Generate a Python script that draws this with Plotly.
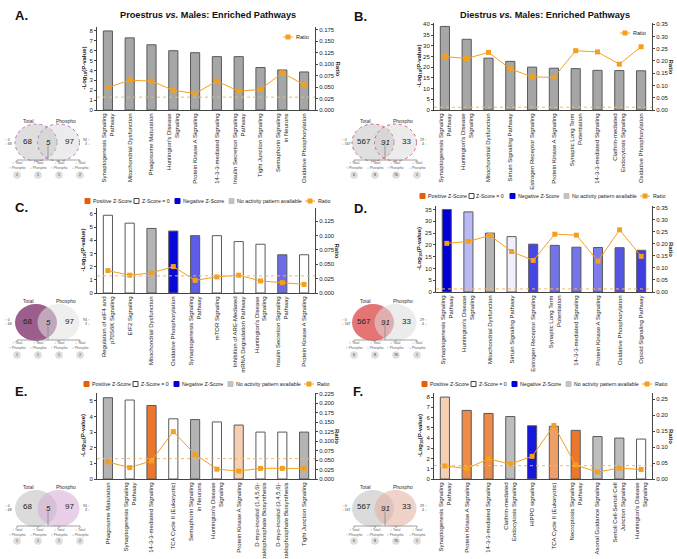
import plotly.graph_objects as go

W, H = 677, 559

# ------------------------------------------------------------------ data
a_pathways = ["Synaptogenesis Signaling<br>Pathway", "Mitochondrial Dysfunction", "Phagosome Maturation",
              "Huntington's Disease<br>Signaling", "Protein Kinase A Signaling", "14-3-3-mediated Signaling",
              "Insulin Secretion Signaling<br>Pathway", "Tight Junction Signaling",
              "Semaphorin Signaling<br>in Neurons", "Oxidative Phosphorylation"]
a_neglogp = [8.0, 7.3, 6.6, 6.0, 5.8, 5.4, 5.4, 4.3, 4.05, 3.85]
a_ratio = [0.049, 0.065, 0.063, 0.043, 0.036, 0.063, 0.041, 0.045, 0.081, 0.055]
a_zscore = [None, None, None, None, None, None, None, None, None, None]

b_pathways = ["Synaptogenesis Signaling<br>Pathway", "Huntington's Disease<br>Signaling", "Mitochondrial Dysfunction",
              "Sirtuin Signaling Pathway", "Estrogen Receptor Signaling", "Protein Kinase A Signaling",
              "Synaptic Long Term<br>Potentiation", "14-3-3-mediated Signaling",
              "Clathrin-mediated<br>Endocytosis Signaling", "Oxidative Phosphorylation"]
b_neglogp = [39.0, 33.0, 24.2, 22.7, 20.0, 19.5, 19.3, 18.5, 18.4, 18.3]
b_ratio = [0.218, 0.210, 0.235, 0.168, 0.135, 0.133, 0.242, 0.237, 0.187, 0.258]
b_zscore = [None, None, None, None, None, None, None, None, None, None]

c_pathways = ["Regulation of eIF4 and<br>p70S6K Signaling", "EIF2 Signaling", "Mitochondrial Dysfunction",
              "Oxidative Phosphorylation", "Synaptogenesis Signaling<br>Pathway", "mTOR Signaling",
              "Inhibition of ARE-Mediated<br>mRNA Degradation Pathway", "Huntington's Disease<br>Signaling",
              "Insulin Secretion Signaling<br>Pathway", "Protein Kinase A Signaling"]
c_neglogp = [5.9, 5.3, 4.9, 4.7, 4.35, 4.35, 3.9, 3.7, 2.9, 2.9]
c_ratio = [0.039, 0.031, 0.035, 0.046, 0.022, 0.028, 0.031, 0.021, 0.018, 0.015]
c_zscore = [0, 0, None, -3.2, -2.1, 0, 0, 0, -1.9, 0]

d_pathways = ["Synaptogenesis Signaling<br>Pathway", "Huntington's Disease<br>Signaling", "Mitochondrial Dysfunction",
              "Sirtuin Signaling Pathway", "Estrogen Receptor Signaling", "Synaptic Long Term<br>Potentiation",
              "14-3-3-mediated Signaling", "Protein Kinase A Signaling", "Oxidative Phosphorylation",
              "Opioid Signaling Pathway"]
d_neglogp = [35.0, 34.0, 25.0, 23.5, 20.3, 19.8, 19.0, 18.9, 18.8, 17.7]
d_ratio = [0.202, 0.210, 0.235, 0.168, 0.131, 0.240, 0.236, 0.128, 0.258, 0.148]
d_zscore = [-3.4, -0.9, None, -0.2, -2.4, -1.8, -1.8, -1.7, -2.2, -2.5]

e_pathways = ["Phagosome Maturation", "Synaptogenesis Signaling<br>Pathway", "14-3-3-mediated Signaling",
              "TCA Cycle II (Eukaryotic)", "Semaphorin Signaling<br>in Neurons", "Huntington's Disease<br>Signaling",
              "Protein Kinase A Signaling", "D-myo-inositol (1,4,5,6)-<br>Tetrakisphosphate Biosynthesis",
              "D-myo-inositol (3,4,5,6)-<br>Tetrakisphosphate Biosynthesis", "Tight Junction Signaling"]
e_neglogp = [5.2, 5.05, 4.7, 3.85, 3.8, 3.65, 3.45, 3.0, 3.0, 3.0]
e_ratio = [0.045, 0.030, 0.048, 0.125, 0.065, 0.026, 0.021, 0.028, 0.028, 0.028]
e_zscore = [None, 0, 2.8, 0, None, 0, 1.0, 0, 0, None]

f_pathways = ["Synaptogenesis Signaling<br>Pathway", "Protein Kinase A Signaling", "14-3-3-mediated Signaling",
              "Clathrin-mediated<br>Endocytosis Signaling", "HIPPO signaling", "TCA Cycle II (Eukaryotic)",
              "Necroptosis Signaling<br>Pathway", "Axonal Guidance Signaling",
              "Sertoli Cell-Sertoli Cell<br>Junction Signaling", "Huntington's Disease<br>Signaling"]
f_neglogp = [8.0, 6.7, 6.4, 6.1, 5.2, 5.15, 4.75, 4.15, 4.0, 3.9]
f_ratio = [0.041, 0.033, 0.063, 0.047, 0.071, 0.168, 0.044, 0.022, 0.034, 0.030]
f_zscore = [1.0, 2.4, 2.4, None, -3.0, 2.0, 2.8, None, None, 0]

panel_letters = ["A.", "B.", "C.", "D.", "E.", "F."]
column_titles = ["Proestrus <i>vs.</i> Males: Enriched Pathways", "Diestrus <i>vs.</i> Males: Enriched Pathways"]
legend_labels = ["Positive Z-Score", "Z-Score = 0", "Negative Z-Score", "No activity pattern available", "Ratio"]
significance_threshold = 1.3  # -log10(0.05)

venn_total_only = [68, 567, 68, 567, 68, 567]
venn_overlap = [5, 91, 5, 91, 5, 91]
venn_phospho_only = [97, 33, 97, 33, 97, 33]
venn_total_updown = [("0", "68"), ("0", "567"), ("0", "68"), ("0", "567"), ("0", "68"), ("0", "567")]
venn_phospho_updown = [("94", "3"), ("29", "4"), ("94", "3"), ("29", "4"), ("94", "3"), ("29", "4")]
venn_overlap_split = [["1", "1", "1", "2"], ["6", "8", "76", "1"], ["1", "1", "1", "2"],
                      ["6", "8", "76", "1"], ["1", "1", "1", "2"], ["6", "8", "76", "1"]]
venn_split_labels = [("↑ Total", "↑ Phospho"), ("↑ Total", "↓ Phospho"),
                     ("↓ Total", "↑ Phospho"), ("↓ Total", "↓ Phospho")]

# ------------------------------------------------------------------ layout / style
FONT = "Liberation Sans"
ORANGE_LINE = "#f5a01c"
panels = [
    dict(cats=a_pathways, y=a_neglogp, r=a_ratio, z=a_zscore, box=(97, 315, 27, 110),
         yl=8.4, ydt=1, yr=0.181, rdt=0.025, rfmt=".3f", gray="#a6a6a6", legend="ratio",
         ratio_leg=(283, 37), ytitle_x=84, rtitle_x=337, letter=(22, 16), venn=(0, 0)),
    dict(cats=b_pathways, y=b_neglogp, r=b_ratio, z=b_zscore, box=(434, 652, 23, 110),
         yl=40.6, ydt=5, yr=0.355, rdt=0.05, rfmt=".2f", gray="#a6a6a6", legend="ratio",
         ratio_leg=(620, 33), ytitle_x=419, rtitle_x=671, letter=(360, 17), venn=(337, 0)),
    dict(cats=c_pathways, y=c_neglogp, r=c_ratio, z=c_zscore, box=(97, 315, 208, 293),
         yl=6.45, ydt=1, yr=0.148, rdt=0.025, rfmt=".3f", gray="#b4b4b4", legend=(85, 201),
         ytitle_x=83, rtitle_x=337, letter=(22, 207), venn=(0, 180)),
    dict(cats=d_pathways, y=d_neglogp, r=d_ratio, z=d_zscore, box=(436, 652, 206, 292),
         yl=36.5, ydt=5, yr=0.357, rdt=0.05, rfmt=".2f", gray="#b4b4b4", legend=(420, 196),
         ytitle_x=420, rtitle_x=671, letter=(360, 208), venn=(337, 180)),
    dict(cats=e_pathways, y=e_neglogp, r=e_ratio, z=e_zscore, box=(97, 315, 393, 479),
         yl=5.5, ydt=1, yr=0.227, rdt=0.025, rfmt=".3f", gray="#b4b4b4", legend=(84, 384),
         ytitle_x=83, rtitle_x=337, letter=(21, 391), venn=(0, 366)),
    dict(cats=f_pathways, y=f_neglogp, r=f_ratio, z=f_zscore, box=(434, 652, 393, 479),
         yl=8.4, ydt=1, yr=0.27, rdt=0.05, rfmt=".2f", gray="#bdbdbd", legend=(422, 384),
         ytitle_x=420, rtitle_x=671, letter=(358, 391), venn=(337, 366)),
]
venn_styles = [
    dict(lf="rgba(185,185,185,0.45)", rf="rgba(200,200,200,0.35)", line="#b27cb4", dash="dot"),
    dict(lf="rgba(185,185,185,0.45)", rf="rgba(200,200,200,0.35)", line="#df5f80", dash="dot"),
    dict(lf="rgba(150,85,135,0.95)", rf="rgba(225,225,225,0.55)", line=None, dash=None),
    dict(lf="rgba(228,110,110,0.95)", rf="rgba(220,220,220,0.55)", line=None, dash=None),
    dict(lf="rgba(190,190,190,0.55)", rf="rgba(215,170,215,0.55)", line=None, dash=None),
    dict(lf="rgba(190,190,190,0.55)", rf="rgba(225,175,160,0.55)", line=None, dash=None),
]


def px(x):
    return x / W


def py(y):
    return 1 - y / H


def blend(base, t):
    return "rgb(%d,%d,%d)" % tuple(round(255 * (1 - t) + c * t) for c in base)


def zcolor(z, gray):
    if z is None:
        return gray
    if z == 0:
        return "white"
    t = min(abs(z) / 3.3, 1.0)
    return blend((230, 95, 5), t) if z > 0 else blend((0, 0, 215), t)


fig = go.Figure()
shapes, annots = [], []
layout = dict(width=W, height=H, margin=dict(l=0, r=0, t=0, b=0), showlegend=False,
              paper_bgcolor="white", plot_bgcolor="white",
              font=dict(family=FONT, size=6, color="#222"))

for i, p in enumerate(panels):
    n = i + 1
    xa = "x" if n == 1 else "x%d" % n
    ya = "y%d" % (2 * n - 1) if n > 1 else "y"
    yb = "y%d" % (2 * n)
    x0, x1, yt, ybm = p["box"]
    colors = [zcolor(z, p["gray"]) for z in p["z"]]
    fig.add_trace(go.Bar(x=p["cats"], y=p["y"], xaxis=xa, yaxis=ya, width=0.42,
                         marker=dict(color=colors, line=dict(color="#5a5a5a", width=1))))
    fig.add_trace(go.Scatter(x=p["cats"], y=p["r"], xaxis=xa, yaxis=yb, mode="lines+markers",
                             line=dict(color=ORANGE_LINE, width=1),
                             marker=dict(symbol="square", size=5, color=ORANGE_LINE)))
    xkey = "xaxis" if n == 1 else "xaxis%d" % n
    ykey = "yaxis" if n == 1 else "yaxis%d" % (2 * n - 1)
    layout[xkey] = dict(domain=[px(x0), px(x1)], anchor=ya, type="category", range=[-0.5, 9.5],
                        tickangle=-90, tickfont=dict(size=6, color="#222"), showline=True,
                        linecolor="#444", linewidth=1, ticks="", showgrid=False, automargin=False)
    layout[ykey] = dict(domain=[py(ybm), py(yt)], anchor=xa, range=[0, p["yl"]], dtick=p["ydt"],
                        showline=True, linecolor="#444", linewidth=1, ticks="outside", ticklen=2,
                        tickcolor="#444", showgrid=False, zeroline=False, tickfont=dict(size=6),
                        automargin=False)
    layout["yaxis%d" % (2 * n)] = dict(overlaying=ya, anchor=xa, side="right", range=[0, p["yr"]],
                                       dtick=p["rdt"], tickformat=p["rfmt"], showline=True,
                                       linecolor="#444", linewidth=1, ticks="outside", ticklen=2,
                                       tickcolor="#444", showgrid=False, zeroline=False,
                                       tickfont=dict(size=6), automargin=False)
    # significance threshold
    shapes.append(dict(type="line", xref="%s domain" % xa, yref=ya, x0=0, x1=1,
                       y0=significance_threshold, y1=significance_threshold,
                       line=dict(color="#f7b765", width=1, dash="dot")))
    # axis titles
    annots.append(dict(x=px(p["ytitle_x"]), y=py((yt + ybm) / 2),
                       text="<b>-Log<sub>10</sub>(P-value)</b>", textangle=-90,
                       font=dict(size=6, color="#222")))
    annots.append(dict(x=px(p["rtitle_x"]), y=py((yt + ybm) / 2),
                       text="<b>Ratio</b>", textangle=90, font=dict(size=6, color="#222")))
    # panel letter
    annots.append(dict(x=px(p["letter"][0]), y=py(p["letter"][1]),
                       text="<b>%s</b>" % panel_letters[i], font=dict(size=13, color="#111")))
    # legends
    if p["legend"] == "ratio":
        lx, ly = p["ratio_leg"]
        shapes.append(dict(type="line", xref="paper", yref="paper", x0=px(lx), x1=px(lx + 10),
                           y0=py(ly), y1=py(ly), line=dict(color=ORANGE_LINE, width=1)))
        shapes.append(dict(type="rect", xref="paper", yref="paper", x0=px(lx + 2.5), x1=px(lx + 7.5),
                           y0=py(ly + 2.5), y1=py(ly - 2.5), fillcolor=ORANGE_LINE, line=dict(width=0)))
        annots.append(dict(x=px(lx + 11), y=py(ly), text=legend_labels[4],
                           xanchor="left", font=dict(size=5.5)))
    else:
        lx, ly = p["legend"]
        offs = [0, 49, 90, 144]
        fills = [blend((230, 95, 5), 1.0), "white", blend((0, 0, 215), 1.0), "#c2c2c2"]
        lines = [fills[0], "#444", fills[2], fills[3]]
        for k in range(4):
            sx = lx + offs[k]
            shapes.append(dict(type="rect", xref="paper", yref="paper", x0=px(sx), x1=px(sx + 5),
                               y0=py(ly + 2.5), y1=py(ly - 2.5), fillcolor=fills[k],
                               line=dict(color=lines[k], width=1)))
            annots.append(dict(x=px(sx + 5.5), y=py(ly), text=legend_labels[k],
                               xanchor="left", font=dict(size=5.3)))
        sx = lx + 220
        shapes.append(dict(type="line", xref="paper", yref="paper", x0=px(sx), x1=px(sx + 10),
                           y0=py(ly), y1=py(ly), line=dict(color=ORANGE_LINE, width=1)))
        shapes.append(dict(type="rect", xref="paper", yref="paper", x0=px(sx + 2.5), x1=px(sx + 7.5),
                           y0=py(ly + 2.5), y1=py(ly - 2.5), fillcolor=ORANGE_LINE, line=dict(width=0)))
        annots.append(dict(x=px(sx + 11), y=py(ly), text=legend_labels[4],
                           xanchor="left", font=dict(size=5.3)))

    # ---------------- venn diagram (two overlapping ellipses)
    ox, oy = p["venn"]
    vs = venn_styles[i]
    rx, ry = 21, 18.5
    cy = oy + 142.5
    lcx, rcx = ox + 36, ox + 58.5
    for cx, fc in ((lcx, vs["lf"]), (rcx, vs["rf"])):
        ln = dict(width=0) if vs["line"] is None else dict(color=vs["line"], width=1, dash=vs["dash"])
        shapes.append(dict(type="circle", xref="paper", yref="paper", x0=px(cx - rx), x1=px(cx + rx),
                           y0=py(cy + ry), y1=py(cy - ry), fillcolor=fc, line=ln, layer="above"))
    annots += [
        dict(x=px(ox + 28), y=py(oy + 121), text="Total", font=dict(size=5, color="#333")),
        dict(x=px(ox + 66), y=py(oy + 121), text="Phospho", font=dict(size=5, color="#333")),
        dict(x=px(ox + 27), y=py(cy - 1.5), text=str(venn_total_only[i]), font=dict(size=8, color="#222")),
        dict(x=px(ox + 48), y=py(cy - 0.5), text="<i>%d</i>" % venn_overlap[i], font=dict(size=8, color="#222")),
        dict(x=px(ox + 69), y=py(cy - 1.5), text=str(venn_phospho_only[i]), font=dict(size=8, color="#222")),
        dict(x=px(ox + 3), y=py(cy - 2.5), text="<span style='color:#e04070'>↑</span> " + venn_total_updown[i][0],
             xanchor="left", font=dict(size=3.5, color="#444")),
        dict(x=px(ox + 3), y=py(cy + 1.5), text="<span style='color:#30a070'>↓</span> " + venn_total_updown[i][1],
             xanchor="left", font=dict(size=3.5, color="#444")),
        dict(x=px(ox + 92), y=py(cy - 2.5), text=venn_phospho_updown[i][0] + " <span style='color:#e04070'>↑</span>",
             xanchor="right", font=dict(size=3.5, color="#444")),
        dict(x=px(ox + 92), y=py(cy + 1.5), text=venn_phospho_updown[i][1] + " <span style='color:#30a070'>↓</span>",
             xanchor="right", font=dict(size=3.5, color="#444")),
    ]
    lc = "#888"
    shapes.append(dict(type="line", xref="paper", yref="paper", x0=px(ox + 48), x1=px(ox + 48),
                       y0=py(cy + 3), y1=py(oy + 160), line=dict(color=lc, width=0.8)))
    shapes.append(dict(type="line", xref="paper", yref="paper", x0=px(ox + 17), x1=px(ox + 80),
                       y0=py(oy + 160), y1=py(oy + 160), line=dict(color=lc, width=0.8)))
    for k, bx in enumerate([17, 38, 59, 80]):
        shapes.append(dict(type="line", xref="paper", yref="paper", x0=px(ox + bx), x1=px(ox + bx),
                           y0=py(oy + 160), y1=py(oy + 162), line=dict(color=lc, width=0.8)))
        annots.append(dict(x=px(ox + bx), y=py(oy + 166),
                           text=venn_split_labels[k][0] + "<br>" + venn_split_labels[k][1],
                           font=dict(size=3.5, color="#666")))
        shapes.append(dict(type="circle", xref="paper", yref="paper", x0=px(ox + bx - 3.8),
                           x1=px(ox + bx + 3.8), y0=py(oy + 178.8), y1=py(oy + 171.2),
                           fillcolor="#dedede", line=dict(width=0)))
        annots.append(dict(x=px(ox + bx), y=py(oy + 175),
                           text=venn_overlap_split[i][k], font=dict(size=3.5, color="#333")))

# column titles
annots.append(dict(x=px(208), y=py(15), text="<b>" + column_titles[0] + "</b>",
                   font=dict(size=9.2, color="#111")))
annots.append(dict(x=px(545), y=py(15), text="<b>" + column_titles[1] + "</b>",
                   font=dict(size=9.2, color="#111")))

for a in annots:
    a.setdefault("xref", "paper")
    a.setdefault("yref", "paper")
    a.setdefault("showarrow", False)
    a.setdefault("xanchor", "center")
    a.setdefault("yanchor", "middle")

layout["shapes"] = shapes
layout["annotations"] = annots
fig.update_layout(**layout)
fig.write_html("out.html", config={"displayModeBar": False},
               post_script="document.body.style.margin='0';document.body.style.padding='0';")
